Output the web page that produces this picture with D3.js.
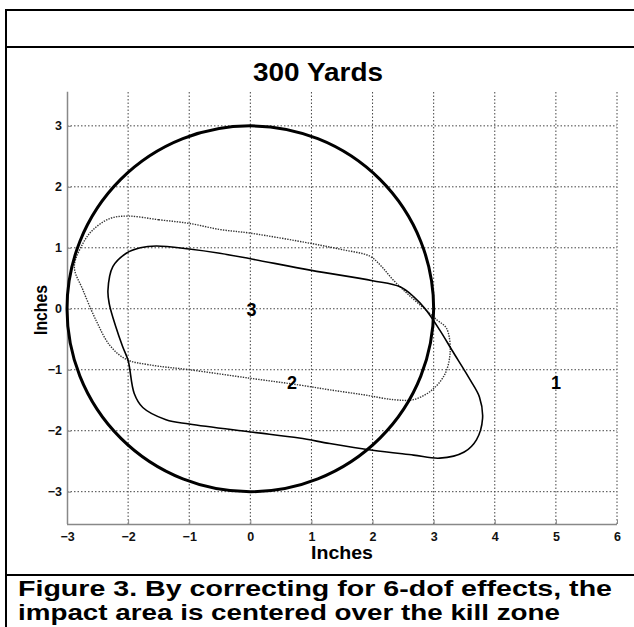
<!DOCTYPE html>
<html><head><meta charset="utf-8">
<script src="https://cdn.jsdelivr.net/npm/d3@7"></script>
<style>body{margin:0;background:#fff}svg{display:block}text{font-family:"Liberation Sans",Arial,sans-serif;font-weight:bold}</style>
</head><body><svg id="c" width="634" height="627"></svg>
<script>
const title = "300 Yards";
const xLabel = "Inches", yLabel = "Inches";
const caption = ["Figure 3. By correcting for 6-dof effects, the", "impact area is centered over the kill zone"];
const xTicks = [-3,-2,-1,0,1,2,3,4,5,6];
const yTicks = [-3,-2,-1,0,1,2,3];
const killZone = {cx:0, cy:0, r:3};
const solidArea = [[-1.54,1.03],[-1.0,0.98],[-0.5,0.91],[0,0.82],[1,0.63],[2.0,0.46],[2.45,0.36],[2.67,0.2],[2.86,0.0],[3.1,-0.35],[3.3,-0.68],[3.6,-1.17],[3.75,-1.45],[3.80,-1.8],[3.70,-2.15],[3.5,-2.35],[3.1,-2.45],[2.67,-2.40],[2.0,-2.32],[1.3,-2.21],[0.8,-2.12],[0,-2.02],[-1.0,-1.89],[-1.38,-1.82],[-1.76,-1.62],[-1.9,-1.39],[-2.0,-0.85],[-2.09,-0.62],[-2.2,-0.3],[-2.31,0.09],[-2.33,0.3],[-2.25,0.69],[-2.03,0.91],[-1.8,1.0]];
const dottedArea = [[-2.0,1.52],[-1.5,1.46],[-1.0,1.40],[-0.5,1.30],[0,1.24],[1,1.07],[1.5,0.97],[1.96,0.86],[2.15,0.69],[2.34,0.47],[2.6,0.22],[2.85,0.0],[3.05,-0.18],[3.21,-0.32],[3.27,-0.7],[3.18,-1.08],[2.95,-1.35],[2.67,-1.49],[2.34,-1.49],[1.85,-1.41],[1.3,-1.33],[0.8,-1.25],[0,-1.14],[-1.0,-1.0],[-1.65,-0.92],[-2.03,-0.83],[-2.3,-0.6],[-2.52,-0.2],[-2.74,0.31],[-2.88,0.69],[-2.74,1.07],[-2.58,1.29],[-2.3,1.48]];
const labels = [{t:"3",x:0.02,y:0},{t:"2",x:0.68,y:-1.2},{t:"1",x:5.0,y:-1.2}];

const svg = d3.select("#c");
const x = d3.scaleLinear().domain([-3,6]).range([67,617]);
const y = d3.scaleLinear().domain([-3.53,3.56]).range([524,91.7]);

// frame
const fr = svg.append("g").attr("stroke","#000").attr("stroke-width",2);
fr.append("line").attr("x1",5).attr("x2",634).attr("y1",10).attr("y2",10);
fr.append("line").attr("x1",5).attr("x2",634).attr("y1",47).attr("y2",47);
fr.append("line").attr("x1",5).attr("x2",634).attr("y1",575).attr("y2",575);
fr.append("line").attr("x1",6).attr("x2",6).attr("y1",9).attr("y2",627);

// grid
const g = svg.append("g").attr("stroke","#444").attr("stroke-width",1).attr("stroke-dasharray","1.5,2");
g.selectAll(".vx").data(xTicks.slice(1)).enter().append("line")
 .attr("x1",d=>x(d)).attr("x2",d=>x(d)).attr("y1",y.range()[0]).attr("y2",y.range()[1]);
g.selectAll(".hy").data(yTicks).enter().append("line")
 .attr("y1",d=>y(d)).attr("y2",d=>y(d)).attr("x1",x.range()[0]).attr("x2",x.range()[1]);

// axes
const xa = svg.append("g").attr("transform",`translate(0,${y.range()[0]})`)
 .call(d3.axisBottom(x).tickValues(xTicks).tickSize(-4).tickPadding(8).tickFormat(d3.format("d")));
const ya = svg.append("g").attr("transform",`translate(${x.range()[0]},0)`)
 .call(d3.axisLeft(y).tickValues(yTicks).tickSize(-4).tickPadding(5).tickFormat(d3.format("d")));
[xa,ya].forEach(a=>{
  a.select(".domain").attr("stroke","#888").attr("stroke-width",1.5);
  a.selectAll(".tick line").attr("stroke","#888");
  a.selectAll("text").attr("font-size",12.5).attr("fill","#111").attr("font-family",'"Liberation Sans",Arial,sans-serif').attr("font-weight","bold");
});
ya.select(".domain").attr("d",`M0.5,${y.range()[0]}V${y.range()[1]}`);
xa.select(".domain").attr("d",`M${x.range()[0]},0.5H${x.range()[1]}`);

// curves
const line = d3.line().x(d=>x(d[0])).y(d=>y(d[1])).curve(d3.curveCatmullRomClosed.alpha(0.5));
svg.append("path").attr("d",line(dottedArea)).attr("fill","none").attr("stroke","#333").attr("stroke-width",1.4).attr("stroke-dasharray","1.4,1.2");
svg.append("path").attr("d",line(solidArea)).attr("fill","none").attr("stroke","#000").attr("stroke-width",1.6);
svg.append("ellipse").attr("cx",x(killZone.cx)).attr("cy",y(killZone.cy))
 .attr("rx",x(killZone.r)-x(0)).attr("ry",y(0)-y(killZone.r))
 .attr("fill","none").attr("stroke","#000").attr("stroke-width",3);

svg.selectAll(".lb").data(labels).enter().append("text")
 .attr("x",d=>x(d.x)).attr("y",d=>y(d.y)+7).attr("text-anchor","middle").attr("font-size",18).text(d=>d.t);

// texts
svg.append("text").attr("x",318).attr("y",81).attr("text-anchor","middle").attr("font-size",26)
 .attr("textLength",130).attr("lengthAdjust","spacingAndGlyphs").text(title);
svg.append("text").attr("x",342).attr("y",559).attr("text-anchor","middle").attr("font-size",18)
 .attr("textLength",62).attr("lengthAdjust","spacingAndGlyphs").text(xLabel);
svg.append("text").attr("transform","translate(47,310) rotate(-90)").attr("text-anchor","middle").attr("font-size",18)
 .attr("textLength",50).attr("lengthAdjust","spacingAndGlyphs").text(yLabel);
const capLen = [594, 542];
svg.selectAll(".cap").data(caption).enter().append("text")
 .attr("x",18).attr("y",(d,i)=>596+i*23.5).attr("font-size",21.5)
 .attr("textLength",(d,i)=>capLen[i]).attr("lengthAdjust","spacingAndGlyphs").text(d=>d);
</script></body></html>
